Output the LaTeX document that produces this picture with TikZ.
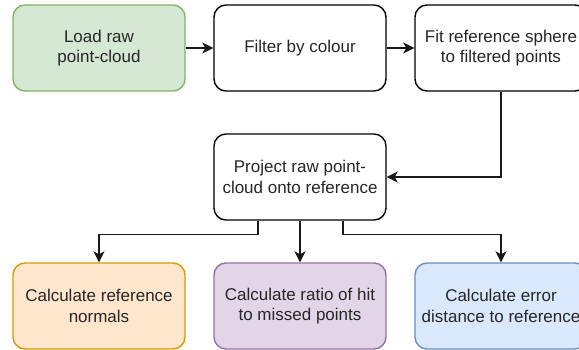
\documentclass[tikz,border=0pt]{standalone}
\usepackage{fontspec}
\setmainfont{Liberation Sans}
\usetikzlibrary{arrows.meta,calc}
\definecolor{greenfill}{HTML}{D5E8D4}\definecolor{greenline}{HTML}{82B366}
\definecolor{orangefill}{HTML}{FFE6CC}\definecolor{orangeline}{HTML}{D79B00}
\definecolor{purplefill}{HTML}{E1D5E7}\definecolor{purpleline}{HTML}{9673A6}
\definecolor{bluefill}{HTML}{DAE8FC}\definecolor{blueline}{HTML}{6C8EBF}
\tikzset{
  stepbox/.style={draw=black, fill=white, rounded corners=12pt, line width=1.4pt,
    minimum width=172pt, minimum height=86pt, inner sep=0pt, align=center,
    font=\fontsize{17}{20.4}\selectfont, text=black!85},
  flow/.style={line width=1.4pt, draw=black!90,
    -{Stealth[length=11pt,width=11pt,inset=3pt]}},
}
\begin{document}
\begin{tikzpicture}[x=1pt,y=-1pt]
  \useasboundingbox (0,0) rectangle (579,349);
  % top row
  \node[stepbox, fill=greenfill, draw=greenline] (load) at (99,48) {Load raw\\point-cloud};
  \node[stepbox] (filter) at (300,48) {Filter by colour};
  \node[stepbox] (fit) at (501,48) {Fit reference sphere\\to filtered points};
  % middle
  \node[stepbox] (project) at (300,177) {Project raw point-\\cloud onto reference};
  % bottom row
  \node[stepbox, fill=orangefill, draw=orangeline] (normals) at (99,306) {Calculate reference\\normals};
  \node[stepbox, fill=purplefill, draw=purpleline] (ratio) at (300,306) {Calculate ratio of hit\\to missed points};
  \node[stepbox, fill=bluefill, draw=blueline] (error) at (501,306) {Calculate error\\distance to reference};
  % connectors
  \draw[flow] (load) -- (filter);
  \draw[flow] (filter) -- (fit);
  \draw[flow] (fit.south) |- (project.east);
  \coordinate (pl) at ([xshift=-42pt]project.south);
  \coordinate (pr) at ([xshift=43pt]project.south);
  \draw[flow] (pl) -- ++(0,14) -| (normals.north);
  \draw[flow] (project.south) -- (ratio.north);
  \draw[flow] (pr) -- ++(0,14) -| (error.north);
\end{tikzpicture}
\end{document}
